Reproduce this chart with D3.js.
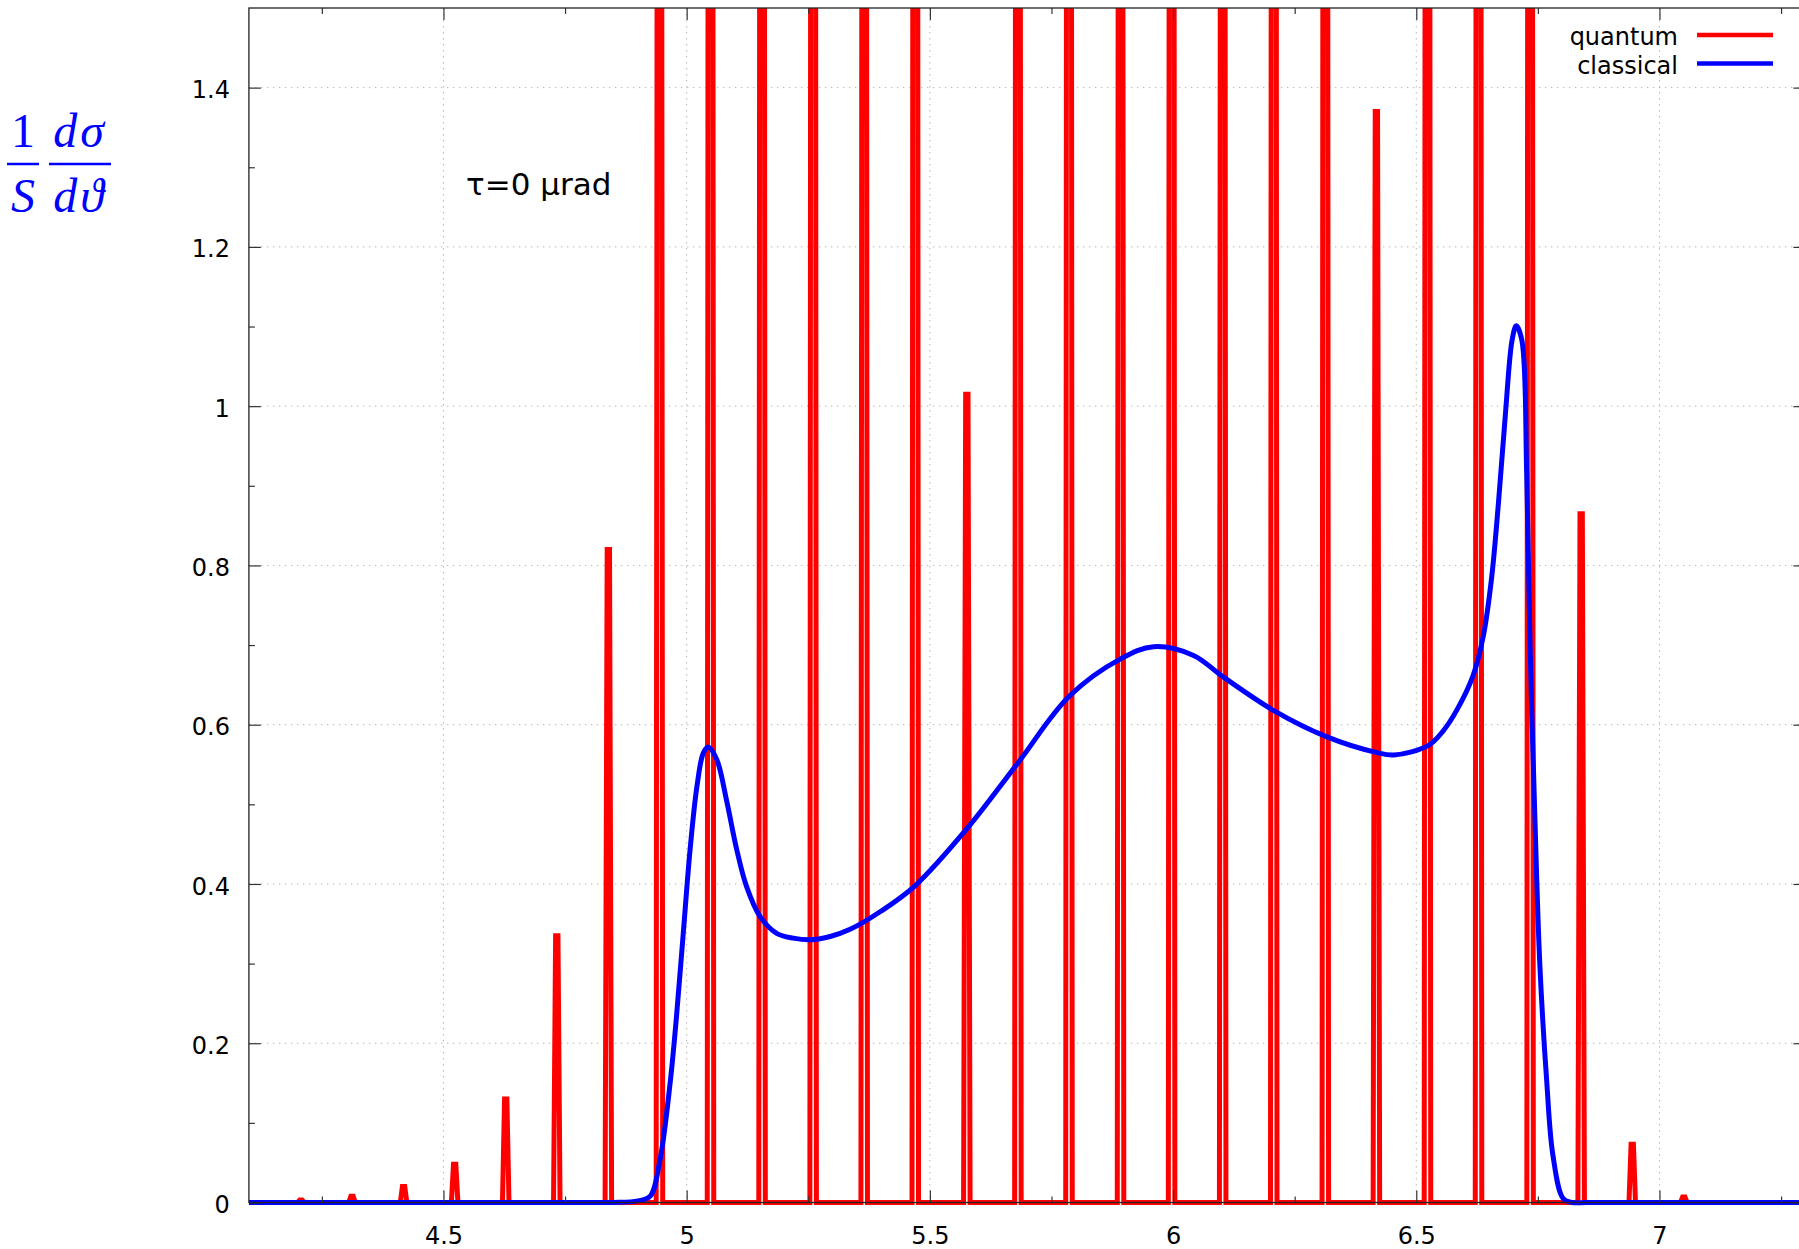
<!DOCTYPE html>
<meta charset="utf-8">
<script src="https://d3js.org/d3.v7.min.js"></script>
<style>
  body { margin: 0; background: #fff; }
  svg { display: block; font-family: "DejaVu Sans", Verdana, sans-serif; }
  .axis text { font-size: 24px; fill: #000; font-family: "DejaVu Sans", Verdana, sans-serif; }
  .axis line { stroke: #333; stroke-width: 1.2; }
  .grid line { stroke: #b8b8b8; stroke-width: 1; stroke-dasharray: 1.5,4.5; }
  .legend text { font-size: 24px; fill: #000; text-anchor: end; }
  .mathLabel { font-family: "Liberation Serif", "Times New Roman", serif; font-size: 48px; fill: #0000ff; text-anchor: middle; }
</style>
<body>
<script>

// axis ticks
var xTicks = [4.5, 5, 5.5, 6, 6.5, 7],
    xMinor = [4.25, 4.75, 5.25, 5.75, 6.25, 6.75, 7.25],
    yTicks = [0, 0.2, 0.4, 0.6, 0.8, 1, 1.2, 1.4],
    yMinor = [0.1, 0.3, 0.5, 0.7, 0.9, 1.1, 1.3];

// quantum: narrow peaks (position, height); tall ones go past the top of the frame
var peakPos = [4.207, 4.312, 4.418, 4.523, 4.628, 4.733, 4.839, 4.944, 5.049, 5.155,
               5.260, 5.365, 5.470, 5.576, 5.681, 5.786, 5.892, 5.997, 6.102, 6.207,
               6.313, 6.418, 6.523, 6.628, 6.734, 6.839, 6.944, 7.050];
var peakHeight = [0.003, 0.008, 0.02, 0.048, 0.13, 0.335, 0.82, 3.6, 4.1, 3.9,
                  4.4, 3.8, 4.2, 1.015, 4.0, 4.5, 3.7, 4.3, 3.9, 4.6,
                  4.1, 1.37, 3.8, 4.4, 4.0, 0.865, 0.073, 0.007];

// classical: smooth curve
var classicalX = [4.10, 4.50, 4.80, 4.85, 4.90, 4.925, 4.945, 4.966, 4.979, 4.993, 5.007, 5.021,
                  5.034, 5.044, 5.062, 5.082, 5.103, 5.123, 5.151, 5.185, 5.219, 5.257,
                  5.295, 5.336, 5.40, 5.47, 5.577, 5.681, 5.787, 5.893, 5.96, 6.042,
                  6.103, 6.209, 6.315, 6.419, 6.454, 6.525, 6.555, 6.583, 6.617,
                  6.638, 6.655, 6.669, 6.683, 6.697, 6.7055, 6.717, 6.727, 6.734, 6.744,
                  6.754, 6.768, 6.781, 6.802, 6.82, 6.85, 6.95, 7.1, 7.3];
var classicalY = [0, 0, 0, 0, 0.002, 0.008, 0.053, 0.150, 0.233, 0.338, 0.443, 0.522,
                  0.564, 0.572, 0.556, 0.505, 0.443, 0.397, 0.359, 0.338, 0.332, 0.330,
                  0.334, 0.343, 0.366, 0.398, 0.470, 0.552, 0.636, 0.683, 0.698, 0.687,
                  0.660, 0.617, 0.585, 0.565, 0.562, 0.574, 0.592, 0.618, 0.662,
                  0.712, 0.785, 0.879, 0.988, 1.083, 1.101, 1.083, 0.916, 0.698, 0.480,
                  0.299, 0.154, 0.059, 0.005, 0, 0, 0, 0, 0];

var seriesNames = ["quantum", "classical"],
    seriesColors = ["#ff0000", "#0000ff"];

var W = 1799, H = 1249;
var plotL = 248.9, plotR = 1805.4, plotT = 8, plotB = 1202.5;

var x = d3.scaleLinear().domain([4.1, 7.3]).range([plotL, plotR]),
    y = d3.scaleLinear().domain([0, 1.5]).range([plotB, plotT]);

var svg = d3.select("body").append("svg")
    .attr("width", W)
    .attr("height", H);

svg.append("defs").append("clipPath").attr("id", "plotClip")
  .append("rect")
    .attr("x", plotL).attr("y", plotT)
    .attr("width", plotR - plotL).attr("height", plotB - plotT + 8);

// grid
var grid = svg.append("g").attr("class", "grid");
grid.selectAll(".gx").data(xTicks).enter().append("line")
    .attr("x1", x).attr("x2", x)
    .attr("y1", plotT).attr("y2", plotB);
grid.selectAll(".gy").data(yTicks.slice(1)).enter().append("line")
    .attr("x1", plotL).attr("x2", plotR)
    .attr("y1", y).attr("y2", y);

// data
var plot = svg.append("g").attr("clip-path", "url(#plotClip)");

var quantumPts = [[4.1, 0]];
peakPos.forEach(function(c, i) {
  var h = peakHeight[i];
  quantumPts.push([c - 0.0067, 0], [c - 0.0024, h], [c + 0.0024, h], [c + 0.0067, 0]);
});
quantumPts.push([7.3, 0]);

plot.append("path")
    .datum(quantumPts)
    .attr("fill", "none")
    .attr("stroke", seriesColors[0])
    .attr("stroke-width", 5)
    .attr("stroke-linejoin", "miter")
    .attr("d", d3.line()
      .x(function(d) { return x(d[0]); })
      .y(function(d) { return y(d[1]); }));

plot.append("path")
    .datum(d3.zip(classicalX, classicalY))
    .attr("fill", "none")
    .attr("stroke", seriesColors[1])
    .attr("stroke-width", 5)
    .attr("stroke-linejoin", "round")
    .attr("d", d3.line()
      .curve(d3.curveCatmullRom.alpha(0.5))
      .x(function(d) { return x(d[0]); })
      .y(function(d) { return y(d[1]); }));

// axes (gnuplot style: inward ticks on all four sides)
var fmt = d3.format("~g");

var xAxis = svg.append("g")
    .attr("class", "axis")
    .attr("transform", "translate(0," + plotB + ")")
    .call(d3.axisBottom(x).tickValues(xTicks).tickSize(-12).tickFormat(fmt));
xAxis.selectAll("text").attr("y", 1244 - plotB).attr("dy", 0);
svg.append("g").attr("class", "axis")
    .attr("transform", "translate(0," + plotB + ")")
    .call(d3.axisBottom(x).tickValues(xMinor).tickSize(-6).tickFormat(""));
svg.append("g").attr("class", "axis")
    .attr("transform", "translate(0," + plotT + ")")
    .call(d3.axisTop(x).tickValues(xTicks).tickSize(-12).tickFormat(""));
svg.append("g").attr("class", "axis")
    .attr("transform", "translate(0," + plotT + ")")
    .call(d3.axisTop(x).tickValues(xMinor).tickSize(-6).tickFormat(""));

var yAxis = svg.append("g")
    .attr("class", "axis")
    .attr("transform", "translate(" + plotL + ",0)")
    .call(d3.axisLeft(y).tickValues(yTicks).tickSize(-12).tickPadding(19).tickFormat(fmt));
yAxis.selectAll("text").attr("dy", "0.42em");
svg.append("g").attr("class", "axis")
    .attr("transform", "translate(" + plotL + ",0)")
    .call(d3.axisLeft(y).tickValues(yMinor).tickSize(-6).tickFormat(""));
svg.append("g").attr("class", "axis")
    .attr("transform", "translate(" + plotR + ",0)")
    .call(d3.axisRight(y).tickValues(yTicks).tickSize(-12).tickFormat(""));
svg.append("g").attr("class", "axis")
    .attr("transform", "translate(" + plotR + ",0)")
    .call(d3.axisRight(y).tickValues(yMinor).tickSize(-6).tickFormat(""));
svg.selectAll(".axis .domain").remove();

// border on top of the data
svg.append("rect")
    .attr("x", plotL).attr("y", plotT)
    .attr("width", plotR - plotL).attr("height", plotB - plotT)
    .attr("fill", "none")
    .attr("stroke", "#222")
    .attr("stroke-width", 1.3);

// annotation
svg.append("text")
    .attr("x", 466)
    .attr("y", 195)
    .attr("font-size", 31)
    .attr("fill", "#000")
    .text("τ=0 μrad");

// legend
var legend = svg.append("g").attr("class", "legend")
  .selectAll("g")
  .data(seriesNames)
  .enter().append("g")
    .attr("transform", function(d, i) { return "translate(0," + (45 + i * 28.5) + ")"; });
legend.append("text")
    .attr("x", 1678)
    .text(function(d) { return d; });
legend.append("line")
    .attr("x1", 1697).attr("x2", 1773)
    .attr("y1", -10).attr("y2", -10)
    .attr("stroke", function(d, i) { return seriesColors[i]; })
    .attr("stroke-width", 4.5);

// y label: 1/S dσ/dϑ
var ml = svg.append("g");
ml.append("text").attr("class", "mathLabel").attr("x", 23).attr("y", 147).text("1");
ml.append("text").attr("class", "mathLabel").attr("x", 23).attr("y", 212)
    .attr("font-style", "italic").text("S");
ml.append("text").attr("class", "mathLabel").attr("x", 80).attr("y", 147)
    .attr("font-style", "italic").attr("letter-spacing", 3).text("dσ");
ml.append("text").attr("class", "mathLabel").attr("x", 80).attr("y", 212)
    .attr("font-style", "italic").attr("letter-spacing", 3).text("dϑ");
ml.append("line").attr("x1", 7).attr("x2", 39).attr("y1", 164).attr("y2", 164)
    .attr("stroke", "#0000ff").attr("stroke-width", 2.5);
ml.append("line").attr("x1", 49).attr("x2", 111).attr("y1", 164).attr("y2", 164)
    .attr("stroke", "#0000ff").attr("stroke-width", 2.5);

</script>
</body>
